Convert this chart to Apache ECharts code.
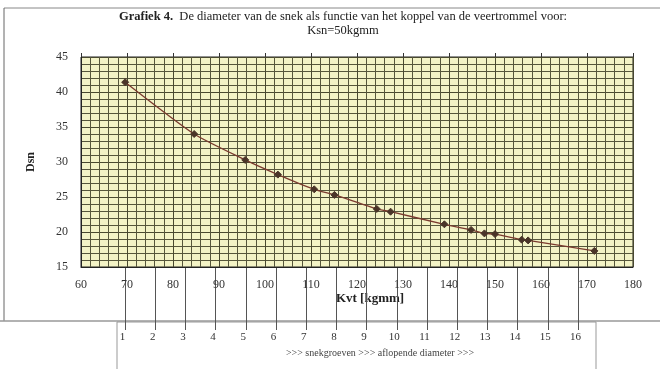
<!DOCTYPE html>
<html>
<head>
<meta charset="utf-8">
<script src="https://cdn.jsdelivr.net/npm/echarts@6/dist/echarts.min.js"></script>
<style>html,body{margin:0;padding:0;background:#fff}#c{width:660px;height:369px}</style>
</head>
<body>
<div id="c"></div>
<script>
// Data
var kvt = [69.6, 84.6, 95.7, 102.8, 110.7, 115.1, 124.3, 127.3, 139.0, 144.8, 147.7, 150.0, 155.8, 157.2, 171.6];
var dsn = [41.4, 34.0, 30.3, 28.2, 26.1, 25.3, 23.3, 22.9, 21.1, 20.3, 19.8, 19.7, 18.9, 18.8, 17.3];
var grooveLabels = ['1','2','3','4','5','6','7','8','9','10','11','12','13','14','15','16'];
var titleBold = 'Grafiek 4.';
var titleRest = '  De diameter van de snek als functie van het koppel van de veertrommel voor:';
var titleLine2 = 'Ksn=50kgmm';
var xName = 'Kvt [kgmm]';
var yName = 'Dsn';
var footText = '>>> snekgroeven >>> aflopende diameter >>>';

var pts = kvt.map(function (v, i) { return [v, dsn[i]]; });
var serif = 'Liberation Serif';
var chart = echarts.init(document.getElementById('c'), null, {renderer: 'canvas'});
chart.setOption({
  animation: false,
  backgroundColor: '#ffffff',
  grid: [
    {left: 81, right: 27, top: 57, bottom: 102, show: true, backgroundColor: '#f3f3c6', borderColor: '#222', borderWidth: 1},
    {left: 125, top: 267, width: 453, height: 63, show: false}
  ],
  xAxis: [
    {
      type: 'value', gridIndex: 0, min: 60, max: 180, interval: 10,
      axisLine: {show: true, lineStyle: {color: '#222'}},
      axisTick: {show: false},
      axisLabel: {color: '#333', fontFamily: serif, fontSize: 12, margin: 12},
      splitLine: {show: true, lineStyle: {color: '#48482f', width: 1}},
      minorTick: {show: false, splitNumber: 5},
      minorSplitLine: {show: true, lineStyle: {color: '#56563b', width: 1}}
    },
    {
      type: 'value', gridIndex: 0, position: 'top', min: 60, max: 180, interval: 10,
      axisLine: {show: false}, axisLabel: {show: false}, splitLine: {show: false},
      axisTick: {show: true, length: 4, inside: false, lineStyle: {color: '#333'}}
    },
    {
      type: 'category', gridIndex: 1, data: grooveLabels, boundaryGap: false,
      axisLine: {show: false}, axisTick: {show: false},
      axisLabel: {color: '#333', fontFamily: serif, fontSize: 11, margin: 2, interval: 0, padding: [0, 5, 0, 0]},
      splitLine: {show: true, interval: 0, lineStyle: {color: '#555', width: 1}}
    }
  ],
  yAxis: [
    {
      type: 'value', gridIndex: 0, min: 15, max: 45, interval: 5,
      axisLine: {show: true, lineStyle: {color: '#222'}},
      axisTick: {show: false},
      axisLabel: {color: '#333', fontFamily: serif, fontSize: 12, margin: 13},
      splitLine: {show: true, lineStyle: {color: '#48482f', width: 1}},
      minorSplitLine: {show: true, lineStyle: {color: '#56563b', width: 1}},
      minorTick: {show: false, splitNumber: 5},
      name: yName, nameLocation: 'middle', nameGap: 44, nameRotate: 90,
      nameTextStyle: {fontFamily: serif, fontSize: 12, fontWeight: 'bold', color: '#222'}
    },
    {type: 'value', gridIndex: 1, show: false, min: 0, max: 1}
  ],
  series: [{
    type: 'line', xAxisIndex: 0, yAxisIndex: 0, data: pts,
    smooth: 0.2,
    symbol: 'diamond', symbolSize: 7,
    itemStyle: {color: '#4a3428', borderColor: '#4a3428'},
    lineStyle: {color: '#7a3a2e', width: 1.3}
  }],
  graphic: [
    {type: 'line', shape: {x1: 4, y1: 8, x2: 660, y2: 8}, style: {stroke: '#888', lineWidth: 1}},
    {type: 'line', shape: {x1: 4, y1: 8, x2: 4, y2: 321}, style: {stroke: '#666', lineWidth: 1}},
    {type: 'line', shape: {x1: 0, y1: 321, x2: 660, y2: 321}, style: {stroke: '#999', lineWidth: 1.5}},
    {type: 'rect', shape: {x: 117, y: 322, width: 479, height: 60}, style: {fill: 'none', stroke: '#999', lineWidth: 1}},
    {type: 'text', x: 343, y: 17, style: {
      text: '{b|' + titleBold + '}' + titleRest,
      rich: {b: {fontWeight: 'bold', fontFamily: serif, fontSize: 12.5, fill: '#222'}},
      font: '12.5px ' + serif, fill: '#222', align: 'center', verticalAlign: 'middle'}},
    {type: 'text', x: 343, y: 31, style: {text: titleLine2, font: '12.5px ' + serif, fill: '#222', align: 'center', verticalAlign: 'middle'}},
    {type: 'text', x: 370, y: 299, style: {text: xName, font: 'bold 13px ' + serif, fill: '#222', align: 'center', verticalAlign: 'middle'}},
    {type: 'text', x: 380, y: 353, style: {text: footText, font: '10px ' + serif, fill: '#444', align: 'center', verticalAlign: 'middle'}}
  ]
});
</script>
</body>
</html>
